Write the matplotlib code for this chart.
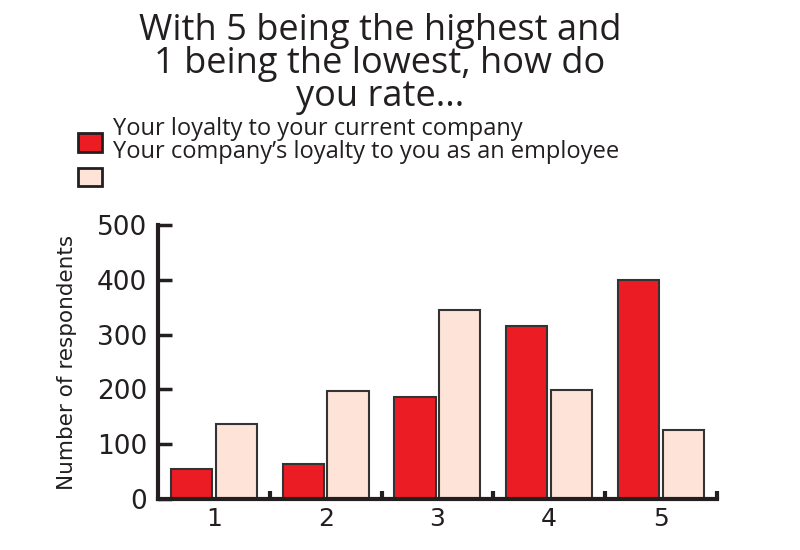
import matplotlib.pyplot as plt
import matplotlib.patches as mpatches
import numpy as np

# dados
ratings = ['1', '2', '3', '4', '5']
loyalty_to_company = [55, 64, 186, 315, 400]
company_loyalty_to_you = [137, 197, 344, 198, 126]
series_labels = ['Your loyalty to your current company',
                 'Your company\u2019s loyalty to you as an employee']
colors = ['#EC1C24', '#FDE3D8']
ink = '#231F20'

fig = plt.figure(figsize=(8, 5.5), dpi=100)
ax = fig.add_axes([0.1975, 0.0927, 0.6985, 0.4983])

x = np.arange(1, len(ratings) + 1)
w = 0.37
ax.bar(x - 0.2, loyalty_to_company, w, color=colors[0], edgecolor='#333333', linewidth=1.5)
ax.bar(x + 0.2, company_loyalty_to_you, w, color=colors[1], edgecolor='#333333', linewidth=1.5)

ax.set_xlim(0.5, 5.5)
ax.set_ylim(0, 500)
ax.set_xticks(x)
ax.set_xticklabels(ratings)
ax.set_xticks(np.arange(1.5, 6.0, 1.0), minor=True)
ax.set_yticks([0, 100, 200, 300, 400, 500])

for s in ['top', 'right']:
    ax.spines[s].set_visible(False)
for s in ['left', 'bottom']:
    ax.spines[s].set_linewidth(3)
    ax.spines[s].set_color(ink)

ax.tick_params(axis='y', direction='in', length=10, width=2.5, color=ink,
               labelsize=19, labelcolor=ink, pad=8)
ax.tick_params(axis='x', which='major', length=0, labelsize=18, labelcolor=ink, pad=6)
ax.tick_params(axis='x', which='minor', direction='in', length=6, width=3, color=ink)
for lab in ax.get_xticklabels() + ax.get_yticklabels():
    lab.set_fontfamily('DejaVu Sans')

ax.set_ylabel('Number of respondents', fontsize=15.5, color=ink,
              family=['Liberation Sans Narrow', 'DejaVu Sans'], labelpad=14)

# titulo
fig.text(0.475, 0.977, 'With 5 being the highest and\n1 being the lowest, how do\nyou rate...',
         ha='center', va='top', fontsize=26, color=ink, family='Open Sans',
         linespacing=0.9)

# legenda (desenhada a mao, como no original)
fig.patches.append(mpatches.Rectangle((0.0975, 0.7236), 0.03, 0.0345, transform=fig.transFigure,
                                      facecolor=colors[0], edgecolor=ink, linewidth=2))
fig.patches.append(mpatches.Rectangle((0.0975, 0.6618), 0.03, 0.0327, transform=fig.transFigure,
                                      facecolor=colors[1], edgecolor=ink, linewidth=2))
fig.text(0.141, 0.765, series_labels[0], ha='left', va='center', fontsize=17,
         color=ink, family='Open Sans')
fig.text(0.141, 0.724, series_labels[1], ha='left', va='center', fontsize=17,
         color=ink, family='Open Sans')

fig.savefig('out.png', dpi=100)
